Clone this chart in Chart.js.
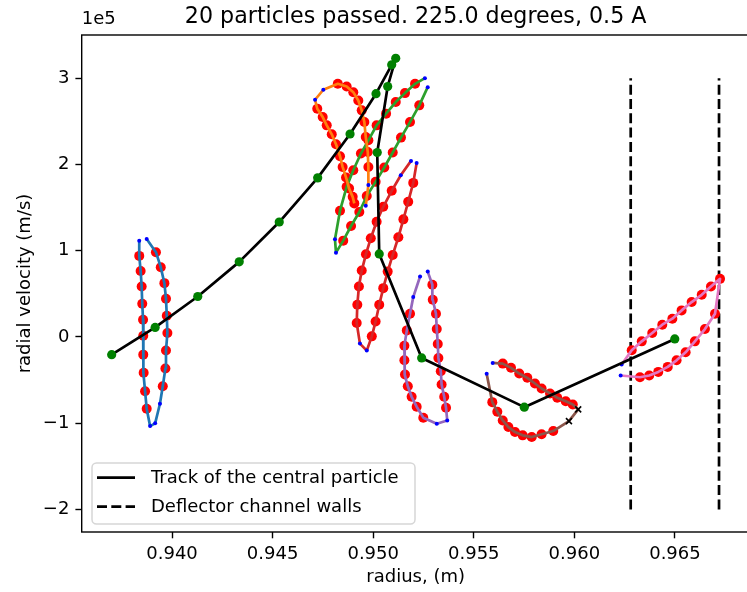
<!DOCTYPE html>
<html>
<head>
<meta charset="utf-8">
<script src="https://cdn.jsdelivr.net/npm/chart.js@4.4.1/dist/chart.umd.min.js"></script>
<style>
  html, body { margin:0; padding:0; background:#fff; }
  #wrap { width:747px; height:592px; overflow:hidden; position:relative; }
  #c { display:block; }
</style>
</head>
<body>
<div id="wrap"><canvas id="c" width="760" height="592"></canvas></div>
<script>
/* ======= Data (radius in m, radial velocity in units of 1e5 m/s) ======= */
// flags per point: b = small blue dot, r = red dot, x = black cross
const blueR = [0.93837, 0.93837, 0.93844, 0.93849, 0.93852, 0.93856, 0.93857, 0.93857, 0.93859, 0.93866, 0.93874, 0.93891, 0.93916, 0.93940, 0.93954, 0.93967, 0.93970, 0.93977, 0.93974, 0.93970, 0.93962, 0.93944, 0.93920, 0.93874];
const blueV = [1.117, 0.940, 0.766, 0.585, 0.385, 0.200, 0.015, -0.205, -0.416, -0.629, -0.832, -1.034, -1.002, -0.775, -0.571, -0.366, -0.158, 0.046, 0.246, 0.443, 0.624, 0.809, 0.983, 1.136];
const blueFlags = "brrrrrrrrrrbbbrrrrrrrrrb";

const orangeR = [0.94963, 0.94976, 0.94976, 0.94973, 0.94963, 0.94956, 0.94943, 0.94926, 0.94901, 0.94868, 0.94824, 0.94752, 0.94711, 0.94722, 0.94749, 0.94769, 0.94794, 0.94815, 0.94835, 0.94848, 0.94865, 0.94880, 0.94898, 0.94906];
const orangeV = [1.521, 1.761, 1.972, 2.146, 2.319, 2.492, 2.628, 2.743, 2.839, 2.905, 2.936, 2.867, 2.751, 2.647, 2.550, 2.454, 2.350, 2.235, 2.096, 1.972, 1.850, 1.723, 1.625, 1.549];
const orangeFlags = "bbrrrrrrrrrbbrrrrrrrrrrr";

const greenR = [0.95257, 0.95208, 0.95158, 0.95112, 0.95064, 0.95017, 0.94976, 0.94939, 0.94901, 0.94868, 0.94835, 0.94810, 0.94815, 0.94851, 0.94890, 0.94931, 0.94968, 0.95012, 0.95055, 0.95097, 0.95138, 0.95183, 0.95229, 0.95271];
const greenV = [3.001, 2.936, 2.828, 2.724, 2.590, 2.454, 2.281, 2.127, 1.934, 1.741, 1.464, 1.133, 0.978, 1.117, 1.287, 1.449, 1.634, 1.799, 1.965, 2.139, 2.312, 2.492, 2.686, 2.897];
const greenFlags = "brrrrrrrrrrbbrrrrrrrrrrb";

const redR = [0.95188, 0.95137, 0.95092, 0.95050, 0.95017, 0.94988, 0.94964, 0.94943, 0.94929, 0.94921, 0.94918, 0.94934, 0.94968, 0.94993, 0.95012, 0.95030, 0.95050, 0.95072, 0.95097, 0.95125, 0.95150, 0.95174, 0.95199, 0.95216];
const redV = [2.042, 1.876, 1.695, 1.510, 1.336, 1.145, 0.960, 0.770, 0.585, 0.373, 0.162, -0.077, -0.158, 0.007, 0.180, 0.373, 0.566, 0.758, 0.951, 1.156, 1.364, 1.568, 1.787, 2.018];
const redFlags = "bbrrrrrrrrrbbrrrrrrrrrrb";

const purpleR = [0.95233, 0.95199, 0.95183, 0.95167, 0.95155, 0.95155, 0.95158, 0.95172, 0.95191, 0.95216, 0.95249, 0.95316, 0.95368, 0.95362, 0.95353, 0.95340, 0.95336, 0.95324, 0.95321, 0.95316, 0.95312, 0.95296, 0.95294, 0.95271];
const purpleV = [0.701, 0.462, 0.269, 0.076, -0.101, -0.271, -0.436, -0.571, -0.694, -0.809, -0.936, -1.006, -0.968, -0.821, -0.694, -0.551, -0.398, -0.243, -0.081, 0.092, 0.269, 0.431, 0.605, 0.758];
const purpleFlags = "bbrrrrrrrrrbbrrrrrrrrrrb";

const brownR = [0.95594, 0.95644, 0.95685, 0.95726, 0.95766, 0.95804, 0.95837, 0.95879, 0.95915, 0.95957, 0.95992, 0.96019, 0.95973, 0.95895, 0.95837, 0.95788, 0.95743, 0.95705, 0.95672, 0.95644, 0.95617, 0.95592, 0.95564];
const brownV = [-0.301, -0.309, -0.358, -0.424, -0.474, -0.540, -0.598, -0.655, -0.705, -0.745, -0.783, -0.840, -0.976, -1.091, -1.129, -1.161, -1.141, -1.103, -1.045, -0.968, -0.867, -0.756, -0.428];
const brownFlags = "brrrrrrrrrrxxrrrrrrrrrb";

const pinkR = [0.96235, 0.96285, 0.96335, 0.96387, 0.96437, 0.96487, 0.96533, 0.96583, 0.96633, 0.96679, 0.96724, 0.96699, 0.96649, 0.96599, 0.96553, 0.96508, 0.96464, 0.96417, 0.96372, 0.96326, 0.96230];
const pinkV = [-0.320, -0.155, -0.051, 0.046, 0.142, 0.212, 0.308, 0.405, 0.489, 0.585, 0.674, 0.269, 0.092, -0.051, -0.178, -0.271, -0.347, -0.405, -0.447, -0.467, -0.447];
const pinkFlags = "brrrrrrrrrrrrrrrrrrrb";

// central particle track
const trackR = [0.93700, 0.93916, 0.94128, 0.94334, 0.94533, 0.94724, 0.94885, 0.95014, 0.95092, 0.95112, 0.95072, 0.95020, 0.95030, 0.95241, 0.95751, 0.96499];
const trackV = [-0.205, 0.111, 0.469, 0.871, 1.333, 1.845, 2.354, 2.821, 3.156, 3.232, 2.905, 2.139, 0.963, -0.243, -0.814, -0.023];

// deflector channel walls
const wallR = [0.96280, 0.96719];
const wallV = [-2, 3];

const xTicks = [0.940, 0.945, 0.950, 0.955, 0.960, 0.965];
const yTicks = [-2, -1, 0, 1, 2, 3];

const TITLE = "20 particles passed. 225.0 degrees, 0.5 A";
const FONT = "DejaVu Sans";

/* ======= Build datasets ======= */
const loops = [
  { r: blueR,   v: blueV,   f: blueFlags,   color: '#1f77b4' },
  { r: orangeR, v: orangeV, f: orangeFlags, color: '#ff7f0e' },
  { r: greenR,  v: greenV,  f: greenFlags,  color: '#2ca02c' },
  { r: redR,    v: redV,    f: redFlags,    color: '#d62728' },
  { r: purpleR, v: purpleV, f: purpleFlags, color: '#9467bd' },
  { r: brownR,  v: brownV,  f: brownFlags,  color: '#8c564b' },
  { r: pinkR,   v: pinkV,   f: pinkFlags,   color: '#e377c2' }
];

const datasets = [];

// walls (bottom)
for (const wx of wallR) {
  datasets.push({
    data: wallV.map(v => ({ x: wx, y: v })),
    showLine: true, borderColor: '#000', borderWidth: 2.7, borderDash: [10, 4.3],
    pointRadius: 0, order: 5
  });
}

for (const L of loops) {
  const pts = L.r.map((x, i) => ({ x: x, y: L.v[i] }));
  const flags = L.f.split('');
  // red dots under the line
  datasets.push({
    data: pts.filter((p, i) => flags[i] === 'r'),
    showLine: false, pointRadius: 5, pointBackgroundColor: '#ff0000',
    pointBorderWidth: 0, order: 4
  });
  // line with the small blue dots / crosses
  datasets.push({
    data: pts,
    showLine: true, borderColor: L.color, borderWidth: 2.7, tension: 0,
    borderJoinStyle: 'round',
    pointRadius: flags.map(c => c === 'b' ? 2 : (c === 'x' ? 4.2 : 0)),
    pointStyle: flags.map(c => c === 'x' ? 'crossRot' : 'circle'),
    pointBackgroundColor: flags.map(c => c === 'b' ? '#0000ff' : '#000'),
    pointBorderColor: flags.map(c => c === 'x' ? '#000' : '#0000ff'),
    pointBorderWidth: flags.map(c => c === 'x' ? 1.6 : 0),
    order: 3
  });
}

// central particle track on top
datasets.push({
  data: trackR.map((x, i) => ({ x: x, y: trackV[i] })),
  showLine: true, borderColor: '#000', borderWidth: 2.7, tension: 0,
  borderJoinStyle: 'round',
  pointRadius: 4.6, pointBackgroundColor: '#008000', pointBorderWidth: 0,
  order: 1
});

/* ======= Text / frame / legend plugin ======= */
const decor = {
  id: 'decor',
  afterDraw(chart) {
    const ctx = chart.ctx, a = chart.chartArea;
    ctx.save();
    // frame
    ctx.strokeStyle = '#000'; ctx.lineWidth = 1.4;
    ctx.strokeRect(a.left, a.top, a.right - a.left, a.bottom - a.top);

    ctx.fillStyle = '#000';
    const cx = (a.left + a.right) / 2;
    // title
    ctx.font = '22.2px "' + FONT + '"';
    ctx.textAlign = 'center'; ctx.textBaseline = 'middle';
    ctx.fillText(TITLE, cx, 17);
    // offset text
    ctx.font = '18px "' + FONT + '"';
    ctx.textAlign = 'left';
    ctx.fillText('1e5', a.left, 19);
    // x label
    ctx.textAlign = 'center';
    ctx.fillText('radius, (m)', cx, 577);
    // y label
    ctx.save();
    ctx.translate(25, (a.top + a.bottom) / 2);
    ctx.rotate(-Math.PI / 2);
    ctx.fillText('radial velocity (m/s)', 0, 0);
    ctx.restore();

    // legend
    const lx = 92, ly = 463, lw = 323, lh = 61, rad = 4.5;
    ctx.beginPath();
    ctx.moveTo(lx + rad, ly);
    ctx.arcTo(lx + lw, ly, lx + lw, ly + lh, rad);
    ctx.arcTo(lx + lw, ly + lh, lx, ly + lh, rad);
    ctx.arcTo(lx, ly + lh, lx, ly, rad);
    ctx.arcTo(lx, ly, lx + lw, ly, rad);
    ctx.closePath();
    ctx.fillStyle = 'rgba(255,255,255,0.8)';
    ctx.fill();
    ctx.strokeStyle = '#d6d6d6'; ctx.lineWidth = 1.5;
    ctx.stroke();

    ctx.strokeStyle = '#000'; ctx.lineWidth = 2.7;
    ctx.beginPath(); ctx.moveTo(97, 477.7); ctx.lineTo(135, 477.7); ctx.stroke();
    ctx.setLineDash([10, 4.3]);
    ctx.beginPath(); ctx.moveTo(97, 506.7); ctx.lineTo(135, 506.7); ctx.stroke();
    ctx.setLineDash([]);

    ctx.fillStyle = '#000';
    ctx.textAlign = 'left'; ctx.textBaseline = 'middle';
    ctx.fillText('Track of the central particle', 151, 478);
    ctx.fillText('Deflector channel walls', 151, 507);
    ctx.restore();
  }
};

/* ======= Chart ======= */
const tickFont = { family: FONT, size: 18 };

new Chart(document.getElementById('c'), {
  type: 'scatter',
  data: { datasets: datasets },
  options: {
    responsive: false, animation: false, events: [],
    layout: { padding: { left: 0, top: 35, right: 10.4, bottom: 0 } },
    plugins: { legend: { display: false }, tooltip: { enabled: false }, title: { display: false } },
    scales: {
      x: {
        type: 'linear', min: 0.93551, max: 0.96871,
        afterBuildTicks: s => { s.ticks = xTicks.map(v => ({ value: v })); },
        afterFit: s => { s.height = 60; },
        grid: { drawOnChartArea: false, drawTicks: true, tickLength: 6.3, tickColor: '#000', tickWidth: 1.4 },
        border: { display: false },
        ticks: { color: '#000', font: tickFont, padding: 5, maxRotation: 0, autoSkip: false,
                 callback: v => Number(v).toFixed(3) }
      },
      y: {
        type: 'linear', min: -2.262, max: 3.502,
        afterBuildTicks: s => { s.ticks = yTicks.map(v => ({ value: v })); },
        afterFit: s => { s.width = 81.7; },
        grid: { drawOnChartArea: false, drawTicks: true, tickLength: 6.3, tickColor: '#000', tickWidth: 1.4 },
        border: { display: false },
        ticks: { color: '#000', font: tickFont, padding: 6, autoSkip: false,
                 callback: v => v < 0 ? '\u2212' + Math.abs(v) : String(v) }
      }
    }
  },
  plugins: [decor]
});
</script>
</body>
</html>
